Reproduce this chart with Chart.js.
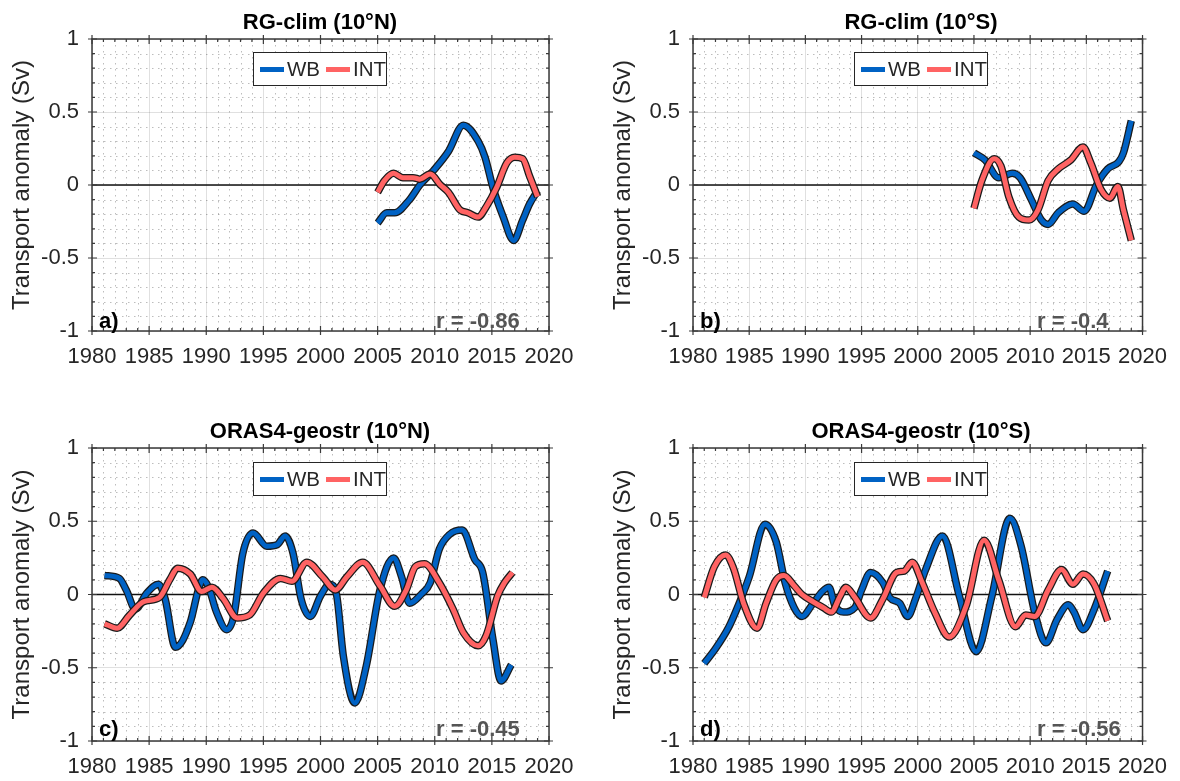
<!DOCTYPE html>
<html>
<head>
<meta charset="utf-8">
<script src="https://cdn.jsdelivr.net/npm/chart.js@4.4.1/dist/chart.umd.min.js"></script>
<style>
  html, body { margin: 0; padding: 0; background: #fff; }
  body { width: 1180px; height: 781px; position: relative; overflow: hidden;
         font-family: "Liberation Sans", Arial, sans-serif; }
  canvas { position: absolute; }
  .title { position: absolute; font-weight: bold; font-size: 22px; color: #000;
           transform: translate(-50%, -50%); white-space: nowrap; }
  .legend { position: absolute; display: flex; align-items: center; box-sizing: border-box;
            border: 1px solid #262626; background: #fff; font-size: 20.5px; color: #262626;
            width: 134px; height: 34px; padding-left: 6px; transform: translateX(-50%); }
  .legend .swatch { display: inline-block; width: 24px; height: 5px; margin-right: 3px; }
  .legend .item { display: flex; align-items: center; margin-right: 6px; }
  .tag { position: absolute; font-weight: bold; font-size: 22px; transform: translateY(-50%);
         white-space: nowrap; }
  .tag.r { color: #555; }
</style>
</head>
<body>

<canvas id="pa" style="left:0;top:0" width="590" height="390"></canvas>
<canvas id="pb" style="left:601px;top:0" width="579" height="390"></canvas>
<canvas id="pc" style="left:0;top:409px" width="590" height="372"></canvas>
<canvas id="pd" style="left:601px;top:409px" width="579" height="372"></canvas>

<div class="title" style="left:320px;top:22px">RG-clim (10°N)</div>
<div class="title" style="left:921px;top:22px">RG-clim (10°S)</div>
<div class="title" style="left:320px;top:431px">ORAS4-geostr (10°N)</div>
<div class="title" style="left:921px;top:431px">ORAS4-geostr (10°S)</div>

<div class="legend" style="left:320px;top:52px"><span class="item"><span class="swatch" style="background:#0062c4"></span>WB</span><span class="item"><span class="swatch" style="background:#ff6363"></span>INT</span></div>
<div class="legend" style="left:921px;top:52px"><span class="item"><span class="swatch" style="background:#0062c4"></span>WB</span><span class="item"><span class="swatch" style="background:#ff6363"></span>INT</span></div>
<div class="legend" style="left:320px;top:462px"><span class="item"><span class="swatch" style="background:#0062c4"></span>WB</span><span class="item"><span class="swatch" style="background:#ff6363"></span>INT</span></div>
<div class="legend" style="left:921px;top:462px"><span class="item"><span class="swatch" style="background:#0062c4"></span>WB</span><span class="item"><span class="swatch" style="background:#ff6363"></span>INT</span></div>

<div class="tag" style="left:99px;top:321px">a)</div>
<div class="tag r" style="left:436px;top:321px">r = -0.86</div>
<div class="tag" style="left:700px;top:321px">b)</div>
<div class="tag r" style="left:1037px;top:321px">r = -0.4</div>
<div class="tag" style="left:99px;top:729px">c)</div>
<div class="tag r" style="left:436px;top:729px">r = -0.45</div>
<div class="tag" style="left:700px;top:729px">d)</div>
<div class="tag r" style="left:1037px;top:729px">r = -0.56</div>

<script>
// Axis ticks shared by all four panels
const xTicks = [1980, 1985, 1990, 1995, 2000, 2005, 2010, 2015, 2020];
const yTicks = [-1, -0.5, 0, 0.5, 1];

// RG-clim, 10°N
const aYearsWB = [2005, 2005.8, 2006.5, 2007.8, 2008.7, 2009.9, 2011.2, 2012.5, 2013.8, 2014.4, 2015.1, 2016.0, 2016.9, 2017.7, 2018.3, 2019.0];
const aWB      = [-0.26, -0.19, -0.19, -0.10, 0.0, 0.10, 0.23, 0.41, 0.30, 0.19, -0.02, -0.22, -0.38, -0.24, -0.13, -0.04];
const aYearsINT = [2005, 2005.6, 2006.4, 2007.2, 2008.1, 2008.7, 2009.6, 2010.5, 2011.2, 2012.2, 2012.9, 2013.8, 2014.5, 2015.4, 2016.3, 2017.0, 2017.7, 2018.3, 2019.0];
const aINT      = [-0.05, 0.03, 0.08, 0.05, 0.05, 0.04, 0.075, 0.0, -0.05, -0.17, -0.19, -0.22, -0.15, -0.02, 0.15, 0.19, 0.18, 0.06, -0.08];

// RG-clim, 10°S
const bYearsWB = [2005, 2006.0, 2007.2, 2008.4, 2009.1, 2010.1, 2011.0, 2011.6, 2012.5, 2013.8, 2014.8, 2015.9, 2016.9, 2017.9, 2018.3, 2019.0];
const bWB      = [0.22, 0.17, 0.05, 0.08, 0.05, -0.10, -0.24, -0.27, -0.19, -0.13, -0.18, 0.0, 0.11, 0.16, 0.22, 0.44];
const bYearsINT = [2005, 2005.7, 2006.8, 2007.4, 2008.1, 2009.0, 2009.9, 2010.7, 2011.6, 2012.5, 2013.6, 2014.7, 2015.4, 2016.3, 2017.1, 2017.8, 2018.3, 2019.0];
const bINT      = [-0.16, 0.03, 0.18, 0.13, -0.08, -0.22, -0.24, -0.17, 0.03, 0.11, 0.17, 0.26, 0.15, -0.03, -0.09, -0.01, -0.17, -0.38];

// ORAS4-geostr, 10°N
const cYearsWB = [1981.1, 1982.4, 1983.0, 1983.8, 1984.8, 1985.8, 1986.4, 1987.3, 1988.6, 1989.3, 1989.7, 1990.2, 1990.9, 1991.8, 1992.4, 1993.2, 1994.1, 1995.3, 1996.2, 1996.9, 1997.6, 1998.3, 1999.1, 2000.0, 2000.8, 2001.4, 2002.0, 2003.0, 2004.0, 2005.2, 2006.4, 2007.1, 2007.8, 2008.8, 2009.6, 2010.4, 2011.3, 2012.4, 2013.5, 2014.2, 2015.1, 2015.8, 2016.7];
const cWB      = [0.13, 0.11, 0.03, -0.10, 0.01, 0.07, -0.03, -0.36, -0.19, 0.03, 0.10, 0.05, -0.12, -0.24, -0.15, 0.28, 0.42, 0.33, 0.34, 0.40, 0.28, -0.03, -0.15, -0.01, 0.07, 0.0, -0.42, -0.74, -0.49, 0.03, 0.25, 0.12, -0.06, 0.0, 0.08, 0.31, 0.41, 0.44, 0.24, 0.15, -0.31, -0.59, -0.48];
const cYearsINT = [1981.1, 1982.2, 1983.3, 1984.5, 1985.9, 1986.8, 1987.5, 1988.6, 1989.6, 1990.5, 1991.5, 1992.7, 1993.8, 1995.0, 1996.5, 1997.5, 1998.8, 2000.2, 2001.3, 2002.3, 2003.7, 2005.2, 2006.5, 2007.5, 2008.3, 2009.1, 2010.4, 2011.6, 2012.5, 2013.8, 2014.5, 2015.5, 2016.1, 2016.8];
const cINT      = [-0.20, -0.23, -0.14, -0.05, -0.02, 0.10, 0.18, 0.14, 0.02, 0.05, -0.03, -0.16, -0.14, 0.01, 0.11, 0.09, 0.22, 0.12, 0.03, 0.12, 0.22, 0.06, -0.08, 0.03, 0.19, 0.21, 0.08, -0.10, -0.26, -0.35, -0.28, -0.01, 0.08, 0.15];

// ORAS4-geostr, 10°S
const dYearsWB = [1981.0, 1982.0, 1983.2, 1984.0, 1985.0, 1986.4, 1987.4, 1988.2, 1989.0, 1989.7, 1990.6, 1991.5, 1992.1, 1992.6, 1993.4, 1994.4, 1995.0, 1995.8, 1996.9, 1997.5, 1998.4, 1999.1, 1999.8, 2000.7, 2002.2, 2003.7, 2005.2, 2006.6, 2008.2, 2009.2, 2010.4, 2011.4, 2012.4, 2013.4, 2013.9, 2014.7, 2015.7, 2016.9];
const dWB      = [-0.47, -0.37, -0.22, -0.08, 0.12, 0.48, 0.36, 0.08, -0.09, -0.15, -0.07, 0.02, 0.05, -0.07, -0.12, -0.09, 0.03, 0.15, 0.08, -0.02, -0.06, -0.15, -0.03, 0.17, 0.40, -0.01, -0.39, -0.01, 0.52, 0.33, -0.12, -0.33, -0.17, -0.07, -0.12, -0.24, -0.10, 0.16];
const dYearsINT = [1981.0, 1981.9, 1982.9, 1983.6, 1984.5, 1985.7, 1986.5, 1987.4, 1988.1, 1989.0, 1989.7, 1990.7, 1991.6, 1992.3, 1993.1, 1993.6, 1994.4, 1995.8, 1996.9, 1998.1, 1998.8, 1999.5, 2000.4, 2001.5, 2002.8, 2004.3, 2005.9, 2007.2, 2008.7, 2009.6, 2010.4, 2011.6, 2012.8, 2013.8, 2014.7, 2015.7, 2016.9];
const dINT      = [-0.02, 0.19, 0.27, 0.18, -0.06, -0.23, -0.06, 0.10, 0.13, 0.06, 0.0, -0.05, -0.09, -0.12, -0.01, 0.05, -0.02, -0.16, -0.03, 0.15, 0.16, 0.22, 0.08, -0.12, -0.29, -0.08, 0.37, 0.10, -0.22, -0.14, -0.15, 0.03, 0.17, 0.07, 0.14, 0.07, -0.18];

const wbColor = '#0062c4';
const intColor = '#ff6363';
const axisColor = '#3a3a3a';
const fontFamily = '"Liberation Sans", Arial, sans-serif';

function pts(xs, ys) {
    return xs.map((x, i) => ({ x: x, y: ys[i] }));
}

// dotted minor grid, zero line, box and inward ticks
const matlabAxes = {
    id: 'matlabAxes',
    beforeDatasetsDraw(chart) {
        const { ctx, chartArea: a, scales: { x, y } } = chart;
        ctx.save();
        ctx.strokeStyle = 'rgba(0,0,0,0.26)';
        ctx.lineWidth = 1;
        ctx.setLineDash([1.5, 4.5]);
        for (let yr = 1981; yr < 2020; yr++) {
            if (yr % 5 === 0) continue;
            const px = Math.round(x.getPixelForValue(yr)) + 0.5;
            ctx.beginPath(); ctx.moveTo(px, a.top); ctx.lineTo(px, a.bottom); ctx.stroke();
        }
        for (let k = -9; k <= 9; k++) {
            if (k % 5 === 0) continue;
            const py = Math.round(y.getPixelForValue(k / 10)) + 0.5;
            ctx.beginPath(); ctx.moveTo(a.left, py); ctx.lineTo(a.right, py); ctx.stroke();
        }
        ctx.setLineDash([]);
        ctx.strokeStyle = '#111';
        ctx.lineWidth = 1.3;
        const y0 = y.getPixelForValue(0);
        ctx.beginPath(); ctx.moveTo(a.left, y0); ctx.lineTo(a.right, y0); ctx.stroke();
        ctx.restore();
    },
    afterDatasetsDraw(chart) {
        const { ctx, chartArea: a, scales: { x, y } } = chart;
        ctx.save();
        ctx.strokeStyle = axisColor;
        ctx.lineWidth = 1.5;
        ctx.strokeRect(a.left, a.top, a.right - a.left, a.bottom - a.top);
        ctx.lineWidth = 1.2;
        ctx.beginPath();
        for (let yr = 1980; yr <= 2020; yr++) {
            const px = x.getPixelForValue(yr);
            const major = yr % 5 === 0;
            const len = major ? 5 : 3;
            ctx.moveTo(px, a.bottom + (major ? 4 : 0)); ctx.lineTo(px, a.bottom - len);
            ctx.moveTo(px, a.top - (major ? 4 : 0)); ctx.lineTo(px, a.top + len);
        }
        for (let k = -10; k <= 10; k++) {
            const py = y.getPixelForValue(k / 10);
            const major = k % 5 === 0;
            const len = major ? 5 : 3;
            ctx.moveTo(a.left - (major ? 4 : 0), py); ctx.lineTo(a.left + len, py);
            ctx.moveTo(a.right + (major ? 4 : 0), py); ctx.lineTo(a.right - len, py);
        }
        ctx.stroke();
        ctx.restore();
    }
};

function series(data, color, width, order) {
    return {
        data: data,
        borderColor: color,
        borderWidth: width,
        pointRadius: 0,
        fill: false,
        cubicInterpolationMode: 'monotone',
        borderCapStyle: 'butt',
        borderJoinStyle: 'round',
        order: order
    };
}

function makePanel(id, yearsWB, wb, yearsINT, int, plotHeight, padRight) {
    const canvas = document.getElementById(id);
    const wbPts = pts(yearsWB, wb);
    const intPts = pts(yearsINT, int);
    return new Chart(canvas, {
        type: 'line',
        data: {
            datasets: [
                series(intPts, intColor, 5, 0),
                series(intPts, '#1a1a1a', 7.5, 1),
                series(wbPts, wbColor, 5, 2),
                series(wbPts, '#1a1a1a', 7.5, 3)
            ]
        },
        options: {
            responsive: false,
            animation: false,
            events: [],
            layout: { padding: { top: 39, right: padRight, left: 0, bottom: 0 } },
            plugins: { legend: { display: false }, tooltip: { enabled: false } },
            scales: {
                x: {
                    type: 'linear',
                    min: 1980, max: 2020,
                    afterBuildTicks: s => { s.ticks = xTicks.map(v => ({ value: v })); },
                    afterFit: s => { s.height = canvas.height - 39 - plotHeight; },
                    grid: { color: 'rgba(0,0,0,0.12)', lineWidth: 1, drawTicks: false },
                    border: { display: false },
                    ticks: {
                        color: '#262626', padding: 13, maxRotation: 0, autoSkip: false,
                        font: { family: fontFamily, size: 22 },
                        callback: v => String(v)
                    }
                },
                y: {
                    min: -1, max: 1,
                    afterBuildTicks: s => { s.ticks = yTicks.map(v => ({ value: v })); },
                    afterFit: s => { s.width = 92; },
                    grid: { color: 'rgba(0,0,0,0.12)', lineWidth: 1, drawTicks: false },
                    border: { display: false },
                    title: {
                        display: true,
                        text: 'Transport anomaly (Sv)',
                        color: '#262626',
                        padding: { top: 8, bottom: 0 },
                        font: { family: fontFamily, size: 24 }
                    },
                    ticks: {
                        color: '#262626', padding: 13,
                        font: { family: fontFamily, size: 22 },
                        callback: v => String(v)
                    }
                }
            }
        },
        plugins: [matlabAxes]
    });
}

makePanel('pa', aYearsWB, aWB, aYearsINT, aINT, 292, 41);
makePanel('pb', bYearsWB, bWB, bYearsINT, bINT, 292, 31);
makePanel('pc', cYearsWB, cWB, cYearsINT, cINT, 293, 41);
makePanel('pd', dYearsWB, dWB, dYearsINT, dINT, 293, 31);
</script>
</body>
</html>
